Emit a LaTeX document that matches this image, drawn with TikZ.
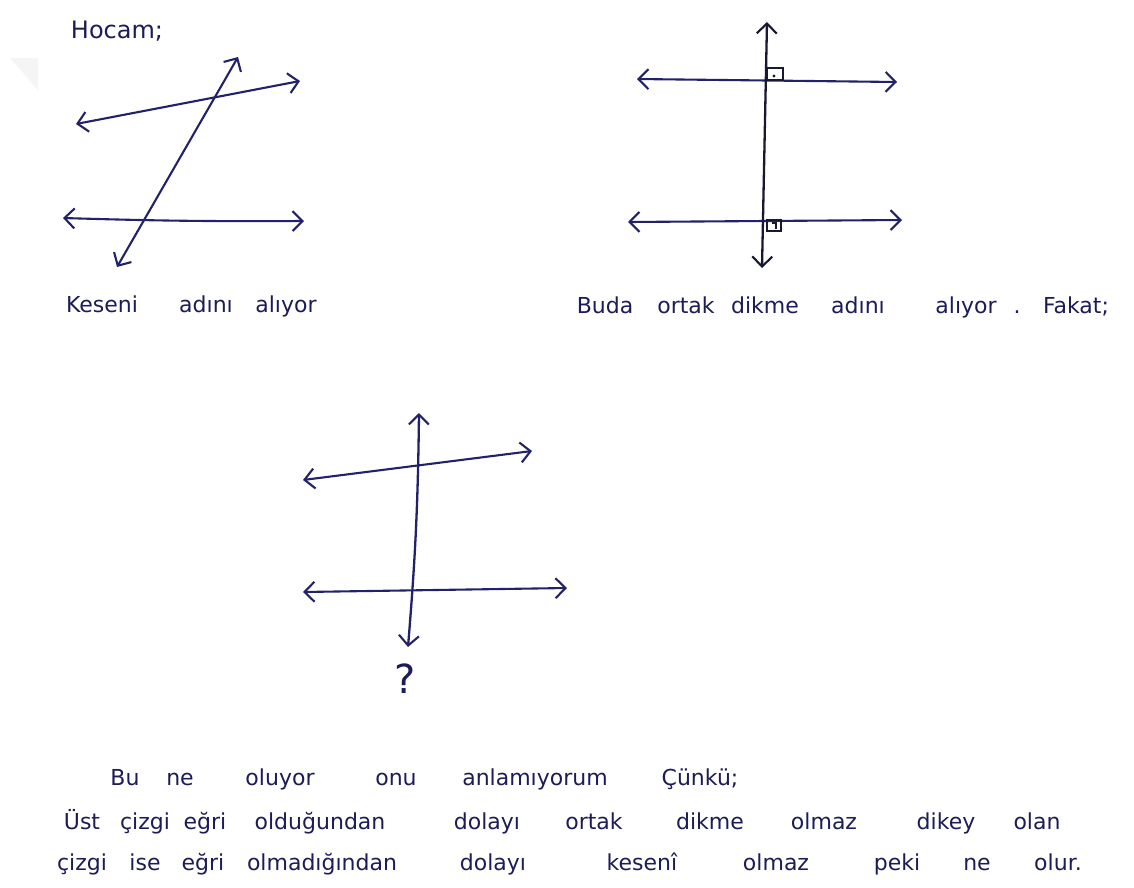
\documentclass[tikz,border=0pt]{standalone}
\usepackage{fontspec}
\setmainfont{DejaVu Sans}
\usetikzlibrary{arrows.meta}
\definecolor{ink}{HTML}{22226A}
\definecolor{dark}{HTML}{181834}
\definecolor{txt}{HTML}{1C1C58}
\begin{document}
\begin{tikzpicture}[x=1pt,y=-1pt,
  ln/.style={draw=ink,line width=2.1pt,line cap=round,{Straight Barb[length=10pt,width=20pt,line width=2.1pt]}-{Straight Barb[length=10pt,width=20pt,line width=2.1pt]}},
  dk/.style={ln,draw=dark,line width=2.3pt},
  ra/.style={draw=dark,line width=1.4pt},
  wd/.style={anchor=base,inner sep=0pt,text=txt,font=\fontsize{22}{22}\selectfont}]
\useasboundingbox (0,0) rectangle (1134,887);
\fill[white] (0,0) rectangle (1134,887);
\fill[black!4] (10,58) -- (38,58) -- (38,90) -- cycle;

% ---------- figure 1 ----------
\coordinate (a1) at (76,124);  \coordinate (a2) at (300,81);
\coordinate (b1) at (63,218);  \coordinate (b2) at (304,221);
\coordinate (t1) at (117,267); \coordinate (t2) at (238,57);
\draw[ln] (a1) -- (a2);
\draw[ln] (b1) to[bend right=1] (b2);
\draw[ln] (t1) -- (t2);

% ---------- figure 2 ----------
\coordinate (c1) at (637,79);  \coordinate (c2) at (897,82);
\coordinate (d1) at (628,222); \coordinate (d2) at (902,220);
\coordinate (v1) at (762,268); \coordinate (v2) at (767,22);
\draw[ln] (c1) -- (c2);
\draw[ln] (d1) -- (d2);
\draw[dk] (v1) -- (v2);
\draw[ra] (767,68) rectangle (783,80);
\fill[dark] (774,76) circle (1.6pt);
\draw[ra] (767,220) rectangle (781,231);
\draw[ra] (772,223) -- (776,223) -- (776,229);

% ---------- figure 3 ----------
\coordinate (e1) at (303,480); \coordinate (e2) at (532,451);
\coordinate (f1) at (303,592); \coordinate (f2) at (567,588);
\coordinate (g1) at (408,647); \coordinate (g2) at (419,413);
\draw[ln] (e1) -- (e2);
\draw[ln] (f1) -- (f2);
\draw[dk,draw=ink] (g1) to[bend right=2] (g2);
\node[wd,font=\fontsize{40}{40}\selectfont] (q) at (405,693) {?};

% ---------- texts ----------
\node[wd,font=\fontsize{24}{24}\selectfont] (h) at (117,38) {Hocam;};
\node[wd] (k1) at (102,312) {Keseni};
\node[wd] (k2) at (206,312) {adını};
\node[wd] (k3) at (286,312) {alıyor};

\node[wd] (m1) at (605,313) {Buda};
\node[wd] (m2) at (686,313) {ortak};
\node[wd] (m3) at (765,313) {dikme};
\node[wd] (m4) at (858,313) {adını};
\node[wd] (m5) at (966,313) {alıyor};
\node[wd] (m5b) at (1017,313) {.};
\node[wd] (m6) at (1076,313) {Fakat;};

\node[wd] (l1) at (125,785) {Bu};
\node[wd] (l2) at (180,785) {ne};
\node[wd] (l3) at (280,785) {oluyor};
\node[wd] (l4) at (396,785) {onu};
\node[wd] (l5) at (535,785) {anlamıyorum};
\node[wd] (l6) at (700,785) {Çünkü;};

\node[wd] (r1) at (82,829) {Üst};
\node[wd] (r2) at (145,829) {çizgi};
\node[wd] (r3) at (205,829) {eğri};
\node[wd] (r4) at (320,829) {olduğundan};
\node[wd] (r5) at (487,829) {dolayı};
\node[wd] (r6) at (594,829) {ortak};
\node[wd] (r7) at (710,829) {dikme};
\node[wd] (r8) at (824,829) {olmaz};
\node[wd] (r9) at (946,829) {dikey};
\node[wd] (r10) at (1037,829) {olan};

\node[wd] (s1) at (82,870) {çizgi};
\node[wd] (s2) at (145,870) {ise};
\node[wd] (s3) at (203,870) {eğri};
\node[wd] (s4) at (322,870) {olmadığından};
\node[wd] (s5) at (493,870) {dolayı};
\node[wd] (s6) at (642,870) {kesenî};
\node[wd] (s7) at (776,870) {olmaz};
\node[wd] (s8) at (897,870) {peki};
\node[wd] (s9) at (977,870) {ne};
\node[wd] (s10) at (1058,870) {olur.};
\end{tikzpicture}
\end{document}
